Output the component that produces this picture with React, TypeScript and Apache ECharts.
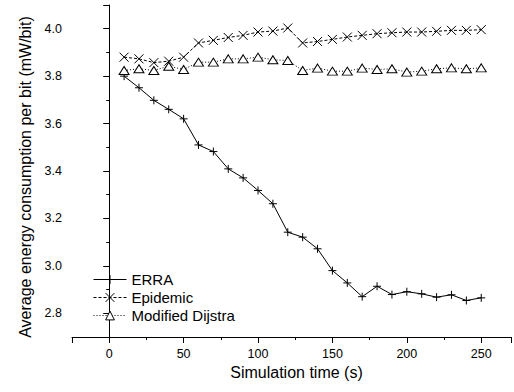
import React, { useEffect, useRef } from "react";
import * as echarts from "echarts";

const times = [10, 20, 30, 40, 50, 60, 70, 80, 90, 100, 110, 120, 130, 140, 150, 160, 170, 180, 190, 200, 210, 220, 230, 240, 250];
const erra = [3.8, 3.751, 3.698, 3.66, 3.62, 3.51, 3.482, 3.409, 3.371, 3.318, 3.262, 3.142, 3.121, 3.072, 2.98, 2.928, 2.87, 2.914, 2.879, 2.891, 2.882, 2.868, 2.878, 2.854, 2.865];
const epidemic = [3.88, 3.873, 3.857, 3.863, 3.88, 3.94, 3.951, 3.963, 3.972, 3.986, 3.99, 4.003, 3.94, 3.946, 3.955, 3.965, 3.972, 3.979, 3.983, 3.986, 3.986, 3.989, 3.993, 3.993, 3.996];
const dijstra = [3.824, 3.831, 3.824, 3.842, 3.828, 3.859, 3.859, 3.873, 3.873, 3.88, 3.869, 3.866, 3.824, 3.834, 3.821, 3.821, 3.834, 3.828, 3.831, 3.817, 3.821, 3.831, 3.835, 3.831, 3.835];
const seriesNames = ["ERRA", "Epidemic", "Modified Dijstra"];

const FONT = "'Liberation Sans', Arial, sans-serif";

export default function App() {
  const ref = useRef<HTMLDivElement>(null);
  useEffect(() => {
    if (!ref.current) return;
    const chart = echarts.init(ref.current, null, { renderer: "svg" });
    const pair = (ys: number[]) => times.map((t, i) => [t, ys[i]]);
    const strokeItem = { color: "rgba(0,0,0,0)", borderColor: "#000", borderWidth: 1 };
    chart.setOption({
      animation: false,
      textStyle: { fontFamily: FONT },
      grid: { left: 72, right: 0, top: 5, bottom: 55 },
      legend: {
        orient: "vertical",
        left: 88,
        top: 267,
        itemWidth: 33,
        itemHeight: 11,
        itemGap: 3,
        lineStyle: { width: 1 },
        itemStyle: { borderWidth: 1 },
        textStyle: { fontSize: 15, color: "#000", fontFamily: FONT },
        data: seriesNames,
      },
      xAxis: [
        {
          type: "value",
          min: -25,
          max: 270,
          interval: 25,
          name: "Simulation time (s)",
          nameLocation: "middle",
          nameGap: 23,
          nameTextStyle: { fontSize: 16, color: "#000", fontFamily: FONT, padding: [0, 0, 0, 10] },
          axisLine: { lineStyle: { color: "#000", width: 1 } },
          axisTick: { length: 3, lineStyle: { color: "#000" } },
          axisLabel: {
            margin: 10,
            fontSize: 12.5,
            color: "#000",
            fontFamily: FONT,
            formatter: (v: number) => (Math.round(v) % 50 === 0 ? String(Math.round(v)) : ""),
          },
          splitLine: { show: false },
        },
        {
          type: "value",
          min: -25,
          max: 270,
          splitNumber: 6,
          position: "bottom",
          axisLine: { show: false },
          axisTick: { length: 6, lineStyle: { color: "#000" } },
          axisLabel: { show: false },
          splitLine: { show: false },
        },
      ],
      yAxis: [
        {
          type: "value",
          min: 2.7,
          max: 4.1,
          interval: 0.1,
          name: "Average energy consumption per bit (mW/bit)",
          nameLocation: "middle",
          nameGap: 38,
          nameTextStyle: { fontSize: 16, color: "#000", fontFamily: FONT, padding: [0, 12, 0, 0] },
          axisLine: { show: true, lineStyle: { color: "#000", width: 1 } },
          axisTick: { show: true, length: 3, lineStyle: { color: "#000" } },
          axisLabel: {
            margin: 10,
            fontSize: 12.5,
            color: "#000",
            fontFamily: FONT,
            formatter: (v: number) => (Math.round(v * 10) % 2 === 0 ? v.toFixed(1) : ""),
          },
          splitLine: { show: false },
        },
        {
          type: "value",
          min: 2.7,
          max: 4.1,
          splitNumber: 7,
          position: "left",
          axisLine: { show: false },
          axisTick: { show: true, length: 6, lineStyle: { color: "#000" } },
          axisLabel: { show: false },
          splitLine: { show: false },
        },
      ],
      series: [
        {
          name: seriesNames[0],
          type: "line",
          data: pair(erra),
          symbol: "path://M0,5L10,5M5,0L5,10",
          symbolSize: 8,
          showAllSymbol: true,
          lineStyle: { color: "#000", width: 1, type: "solid" },
          itemStyle: strokeItem,
          z: 3,
        },
        {
          name: seriesNames[1],
          type: "line",
          data: pair(epidemic),
          symbol: "path://M0,0L10,10M10,0L0,10",
          symbolSize: 9,
          showAllSymbol: true,
          lineStyle: { color: "#000", width: 1, type: [3, 2] },
          itemStyle: strokeItem,
        },
        {
          name: seriesNames[2],
          type: "line",
          data: pair(dijstra),
          symbol: "path://M5,0L10,9L0,9Z",
          symbolSize: [10, 8],
          showAllSymbol: true,
          lineStyle: { color: "#000", width: 1, type: [1, 2] },
          itemStyle: { color: "#fff", borderColor: "#000", borderWidth: 1 },
        },
      ],
    });
    return () => chart.dispose();
  }, []);
  return <div ref={ref} style={{ width: 514, height: 392, position: "absolute", left: 0, top: 0 }} />;
}
